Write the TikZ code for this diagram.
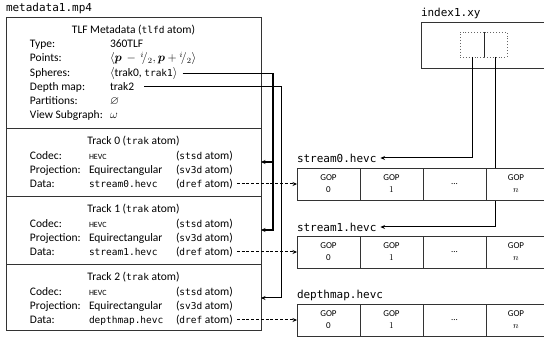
\documentclass[tikz,border=0pt]{standalone}
\usepackage{amsmath,amssymb}
\usepackage{fontspec}
\setmainfont{Carlito}
\setsansfont{Carlito}
\setmonofont{DejaVu Sans Mono}
\usetikzlibrary{arrows.meta}
\newcommand{\mtt}[1]{{\fontsize{9.5}{11}\ttfamily #1}}
\newcommand{\hevcsm}{{\fontsize{8}{9}\selectfont HEVC}}
\begin{document}
\begin{tikzpicture}[x=1pt,y=-1pt,
  every node/.style={inner sep=0pt, outer sep=0pt},
  frame/.style={draw=black!80, line width=0.8pt, anchor=north west},
  lab/.style={anchor=base west, font=\fontsize{11.5}{13}\selectfont},
  ttl/.style={anchor=base, font=\fontsize{11.5}{13}\selectfont},
  fname/.style={anchor=west, font=\fontsize{11}{13}\ttfamily},
  gop/.style={draw=black!80, line width=0.8pt, fill=white, anchor=north west, minimum height=32pt, minimum width=63pt, align=center, font=\fontsize{9}{12}\selectfont},
  tip/.style={-{Stealth[length=4.5pt,width=4pt]}},
  thk/.style={tip, line width=1.6pt},
  thn/.style={tip, line width=1pt},
  dsh/.style={tip, line width=1pt, dash pattern=on 3pt off 1.8pt},
  idx/.style={tip, line width=1pt},
  sq/.style={draw=black!60, dotted, line width=0.9pt, anchor=north west, minimum height=25pt},
]
\useasboundingbox (0,0) rectangle (544,339);

% ---------- metadata file ----------
\node[fname] (mp4) at (6,8) {metadata1.mp4};
\node[frame, minimum width=255pt, minimum height=111pt] (tlf) at (6,17) {};
\node[frame, minimum width=255pt, minimum height=68pt] (tr0) at (6,128) {};
\node[frame, minimum width=255pt, minimum height=68pt] (tr1) at (6,196) {};
\node[frame, minimum width=255pt, minimum height=66pt] (tr2) at (6,264) {};

\node[ttl] (tlft) at (133.5,33.5) {TLF Metadata (\mtt{tlfd} atom)};
\node[lab] (l1) at (30,47.5) {Type:};
\node[lab] (v1) at (110,47.5) {360TLF};
\node[lab] (l2) at (30,61.5) {Points:};
\node[lab] (v2) at (110,61.5) {$\langle \boldsymbol{p} \,-\, {}^{i}\!/_{2}, \boldsymbol{p} + {}^{i}\!/_{2}\rangle$};
\node[lab] (l3) at (30,76.5) {Spheres:};
\node[lab] (sph) at (110,76.5) {$\langle$trak0, \mtt{trak1}$\rangle$};
\node[lab] (l4) at (30,90.5) {Depth map:};
\node[lab] (dep) at (110,90.5) {trak2};
\node[lab] (l5) at (30,104.5) {Partitions:};
\node[lab] (v5) at (110,104.5) {$\varnothing$};
\node[lab] (l6) at (30,118.5) {View Subgraph:};
\node[lab] (v6) at (110,118.5) {$\omega$};

% Track 0
\node[ttl] (t0) at (133.5,144.5) {Track 0 (\mtt{trak} atom)};
\node[lab] (c0l) at (30,159.5) {Codec:};
\node[lab] (c0v) at (89,159.5) {\hevcsm};
\node[lab] (c0a) at (176,159.5) {(\mtt{stsd} atom)};
\node[lab] (p0l) at (30,173.5) {Projection:};
\node[lab] (p0v) at (89,173.5) {Equirectangular};
\node[lab] (p0a) at (176,173.5) {(\mtt{sv3d} atom)};
\node[lab] (d0l) at (30,187.5) {Data:};
\node[lab] (d0v) at (89,187.5) {\mtt{stream0.hevc}};
\node[lab] (d0a) at (176,187.5) {(\mtt{dref} atom)};

% Track 1
\node[ttl] (t1) at (133.5,212.5) {Track 1 (\mtt{trak} atom)};
\node[lab] (c1l) at (30,227.5) {Codec:};
\node[lab] (c1v) at (89,227.5) {\hevcsm};
\node[lab] (c1a) at (176,227.5) {(\mtt{stsd} atom)};
\node[lab] (p1l) at (30,241.5) {Projection:};
\node[lab] (p1v) at (89,241.5) {Equirectangular};
\node[lab] (p1a) at (176,241.5) {(\mtt{sv3d} atom)};
\node[lab] (d1l) at (30,255.5) {Data:};
\node[lab] (d1v) at (89,255.5) {\mtt{stream1.hevc}};
\node[lab] (d1a) at (176,255.5) {(\mtt{dref} atom)};

% Track 2
\node[ttl] (t2) at (133.5,280.5) {Track 2 (\mtt{trak} atom)};
\node[lab] (c2l) at (30,295.5) {Codec:};
\node[lab] (c2v) at (89,295.5) {\hevcsm};
\node[lab] (c2a) at (176,295.5) {(\mtt{stsd} atom)};
\node[lab] (p2l) at (30,309.5) {Projection:};
\node[lab] (p2v) at (89,309.5) {Equirectangular};
\node[lab] (p2a) at (176,309.5) {(\mtt{sv3d} atom)};
\node[lab] (d2l) at (30,323.5) {Data:};
\node[lab] (d2v) at (89,323.5) {\mtt{depthmap.hevc}};
\node[lab] (d2a) at (176,323.5) {(\mtt{dref} atom)};

% ---------- index file ----------
\node[fname] (ixl) at (421,13) {index1.xy};
\node[frame, minimum width=127pt, minimum height=46pt] (ibox) at (421,22) {};
\node[sq, minimum width=24pt] (ia) at (460,32) {};
\node[sq, minimum width=23pt] (ib) at (484,32) {};
\draw[black!85, line width=0.8pt] (ia.north east) -- (ia.south east);

% ---------- stream labels ----------
\node[fname] (s0lab) at (297,158) {stream0.hevc};
\node[fname] (s1lab) at (297,227) {stream1.hevc};
\node[fname] (s2lab) at (297,295) {depthmap.hevc};

% index connectors (drawn before the GOP rows)
\draw[idx] (ia.south) |- ([xshift=4pt]s0lab.east);
\draw[idx] (ib.south) |- ([xshift=4pt]s1lab.east);

% ---------- GOP rows ----------
\node[gop] (g00) at (297,168) {GOP\\0};
\node[gop] (g01) at (360,168) {GOP\\$1$};
\node[gop] (g02) at (423,168) {...};
\node[gop, minimum width=60pt] (g03) at (486,168) {GOP\\$n$};

\node[gop] (g10) at (297,236) {GOP\\0};
\node[gop] (g11) at (360,236) {GOP\\$1$};
\node[gop] (g12) at (423,236) {...};
\node[gop, minimum width=60pt] (g13) at (486,236) {GOP\\$n$};

\node[gop] (g20) at (297,304) {GOP\\0};
\node[gop] (g21) at (360,304) {GOP\\$1$};
\node[gop] (g22) at (423,304) {...};
\node[gop, minimum width=60pt] (g23) at (486,304) {GOP\\$n$};

% ---------- track connectors ----------
\coordinate (jx) at (273,0);
\coordinate (kx) at (281,0);
\coordinate (a0) at ([yshift=-34pt]tr0.north east);
\coordinate (a1) at ([yshift=-34pt]tr1.north east);
\coordinate (a2) at ([yshift=-34pt]tr2.north east);

\draw[thk] ([xshift=5pt]sph.east) -| (jx |- a1) -- (a1);
\draw[thk] (jx |- a0) -- (a0);
\draw[thn] ([xshift=10pt]dep.east) -| (kx |- a2) -- (a2);

% ---------- data connectors ----------
\draw[dsh] ([xshift=4pt]d0a.east |- g00.west) -- (g00.west);
\draw[dsh] ([xshift=4pt]d1a.east |- g10.west) -- (g10.west);
\draw[dsh] ([xshift=4pt]d2a.east |- g20.west) -- (g20.west);
\end{tikzpicture}
\end{document}
